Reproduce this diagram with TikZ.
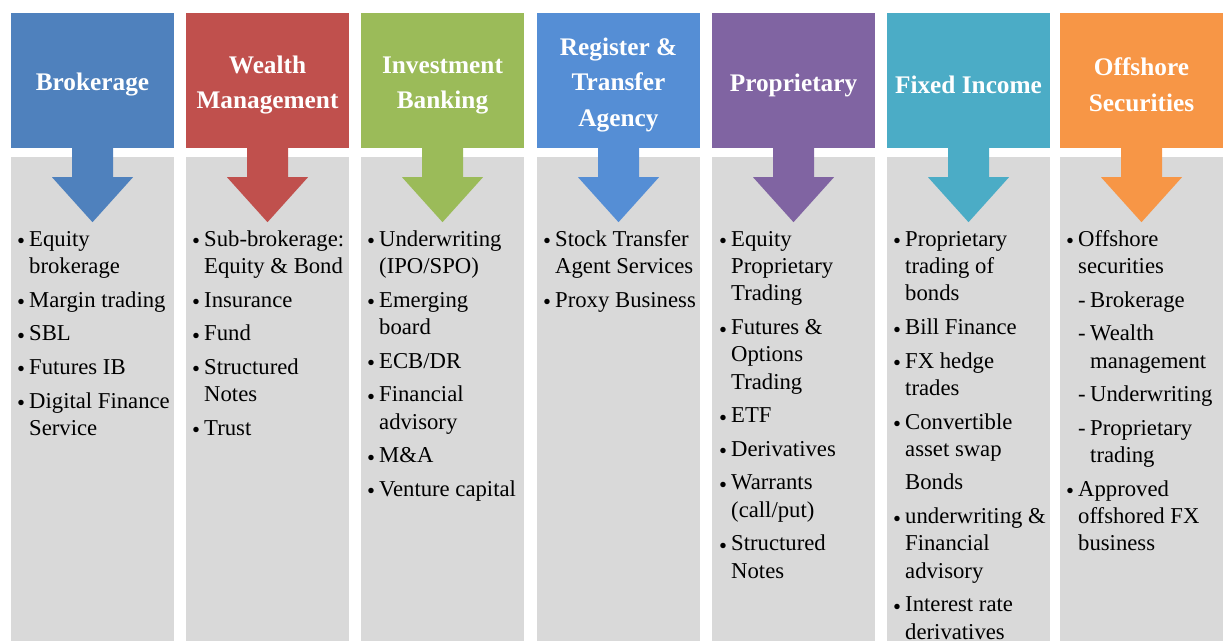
\documentclass[tikz,border=0pt]{standalone}
\usepackage{fontspec}
\setmainfont{Liberation Serif}
\usetikzlibrary{positioning}

\definecolor{cBrok}{HTML}{4F81BD}
\definecolor{cWealth}{HTML}{C0504D}
\definecolor{cInvest}{HTML}{9BBB59}
\definecolor{cRegist}{HTML}{558ED5}
\definecolor{cProp}{HTML}{8064A2}
\definecolor{cFixed}{HTML}{4BACC6}
\definecolor{cOff}{HTML}{F79646}
\definecolor{cPanel}{HTML}{D9D9D9}

\newcommand{\hstrut}{\rule{0pt}{26.5pt}}
\newcommand{\bul}{\strut\makebox[12pt][l]{\raisebox{-2.5pt}{\textbullet}}}
\newcommand{\ind}{\hspace*{12pt}}
\newcommand{\dsh}{\hspace*{12pt}\makebox[12pt][l]{-}}

\tikzset{
  hdr/.style={shape=rectangle, minimum width=163pt, minimum height=135pt, inner sep=0pt,
    text=white, align=center, font=\fontsize{25.3}{35.5}\selectfont\bfseries},
  panel/.style={shape=rectangle, fill=cPanel, minimum width=163pt, minimum height=484pt,
    inner sep=0pt, anchor=north},
  items/.style={anchor=north west, inner sep=0pt, align=left,
    font=\fontsize{22.7}{27.3}\selectfont}
}

\begin{document}
\begin{tikzpicture}[x=1pt, y=1pt]
    \useasboundingbox (0,0) rectangle (1229,641);

    % headers
    \node[hdr, fill=cBrok] (H1) at (92.5,560.5) {\hstrut Brokerage};
    \node[hdr, fill=cWealth] (H2) at (267.5,560.5) {\hstrut Wealth\\Management};
    \node[hdr, fill=cInvest] (H3) at (442.5,560.5) {\hstrut Investment\\Banking};
    \node[hdr, fill=cRegist] (H4) at (618.5,560.5) {\hstrut Register \&\\Transfer\\Agency};
    \node[hdr, fill=cProp] (H5) at (793.5,560.5) {\hstrut Proprietary};
    \node[hdr, fill=cFixed] (H6) at (968.5,560.5) {\hstrut Fixed Income};
    \node[hdr, fill=cOff] (H7) at (1141.5,560.5) {\hstrut Offshore\\Securities};

    % grey panels
    \node[panel] (P1) at (92.5,484) {};
    \node[panel] (P2) at (267.5,484) {};
    \node[panel] (P3) at (442.5,484) {};
    \node[panel] (P4) at (618.5,484) {};
    \node[panel] (P5) at (793.5,484) {};
    \node[panel] (P6) at (968.5,484) {};
    \node[panel] (P7) at (1141.5,484) {};

    % block arrows
    \fill[cBrok] ([xshift=-20.5pt]H1.south) -- ++(0,-29) -- ++(-20,0) -- ++(40.5,-45) -- ++(40.5,45) -- ++(-20,0) -- ++(0,29) -- cycle;
    \fill[cWealth] ([xshift=-20.5pt]H2.south) -- ++(0,-29) -- ++(-20,0) -- ++(40.5,-45) -- ++(40.5,45) -- ++(-20,0) -- ++(0,29) -- cycle;
    \fill[cInvest] ([xshift=-20.5pt]H3.south) -- ++(0,-29) -- ++(-20,0) -- ++(40.5,-45) -- ++(40.5,45) -- ++(-20,0) -- ++(0,29) -- cycle;
    \fill[cRegist] ([xshift=-20.5pt]H4.south) -- ++(0,-29) -- ++(-20,0) -- ++(40.5,-45) -- ++(40.5,45) -- ++(-20,0) -- ++(0,29) -- cycle;
    \fill[cProp] ([xshift=-20.5pt]H5.south) -- ++(0,-29) -- ++(-20,0) -- ++(40.5,-45) -- ++(40.5,45) -- ++(-20,0) -- ++(0,29) -- cycle;
    \fill[cFixed] ([xshift=-20.5pt]H6.south) -- ++(0,-29) -- ++(-20,0) -- ++(40.5,-45) -- ++(40.5,45) -- ++(-20,0) -- ++(0,29) -- cycle;
    \fill[cOff] ([xshift=-20.5pt]H7.south) -- ++(0,-29) -- ++(-20,0) -- ++(40.5,-45) -- ++(40.5,45) -- ++(-20,0) -- ++(0,29) -- cycle;

    % lists
    \node[items] (L1) at (17,414) {\bul Equity\\ \ind brokerage\\[6.3pt] \bul Margin trading\\[6.3pt] \bul SBL\\[6.3pt]
        \bul Futures IB\\[6.3pt] \bul Digital Finance\\ \ind Service};
    \node[items] (L2) at (192,414) {\bul Sub-brokerage:\\ \ind Equity \& Bond\\[6.3pt] \bul Insurance\\[6.3pt] \bul Fund\\[6.3pt]
        \bul Structured\\ \ind Notes\\[6.3pt] \bul Trust};
    \node[items] (L3) at (367,414) {\bul Underwriting\\ \ind (IPO/SPO)\\[6.3pt] \bul Emerging\\ \ind board\\[6.3pt] \bul ECB/DR\\[6.3pt]
        \bul Financial\\ \ind advisory\\[6.3pt] \bul M\&A\\[6.3pt] \bul Venture capital};
    \node[items] (L4) at (543,414) {\bul Stock Transfer\\ \ind Agent Services\\[6.3pt] \bul Proxy Business};
    \node[items] (L5) at (719,414) {\bul Equity\\ \ind Proprietary\\ \ind Trading\\[6.3pt] \bul Futures \&\\ \ind Options\\ \ind Trading\\[6.3pt]
        \bul ETF\\[6.3pt] \bul Derivatives\\[6.3pt] \bul Warrants\\ \ind (call/put)\\[6.3pt] \bul Structured\\ \ind Notes};
    \node[items] (L6) at (893,414) {\bul Proprietary\\ \ind trading of\\ \ind bonds\\[6.3pt] \bul Bill Finance\\[6.3pt] \bul FX hedge\\ \ind trades\\[6.3pt]
        \bul Convertible\\ \ind asset swap\\[6.3pt] \ind Bonds\\[6.3pt] \bul underwriting \&\\ \ind Financial\\ \ind advisory\\[6.3pt]
        \bul Interest rate\\ \ind derivatives};
    \node[items] (L7) at (1066,414) {\bul Offshore\\ \ind securities\\[6.3pt] \dsh Brokerage\\[6.3pt] \dsh Wealth\\ \ind\ind management\\[6.3pt]
        \dsh Underwriting\\[6.3pt] \dsh Proprietary\\ \ind\ind trading\\[6.3pt] \bul Approved\\ \ind offshored FX\\ \ind business};

\end{tikzpicture}
\end{document}
